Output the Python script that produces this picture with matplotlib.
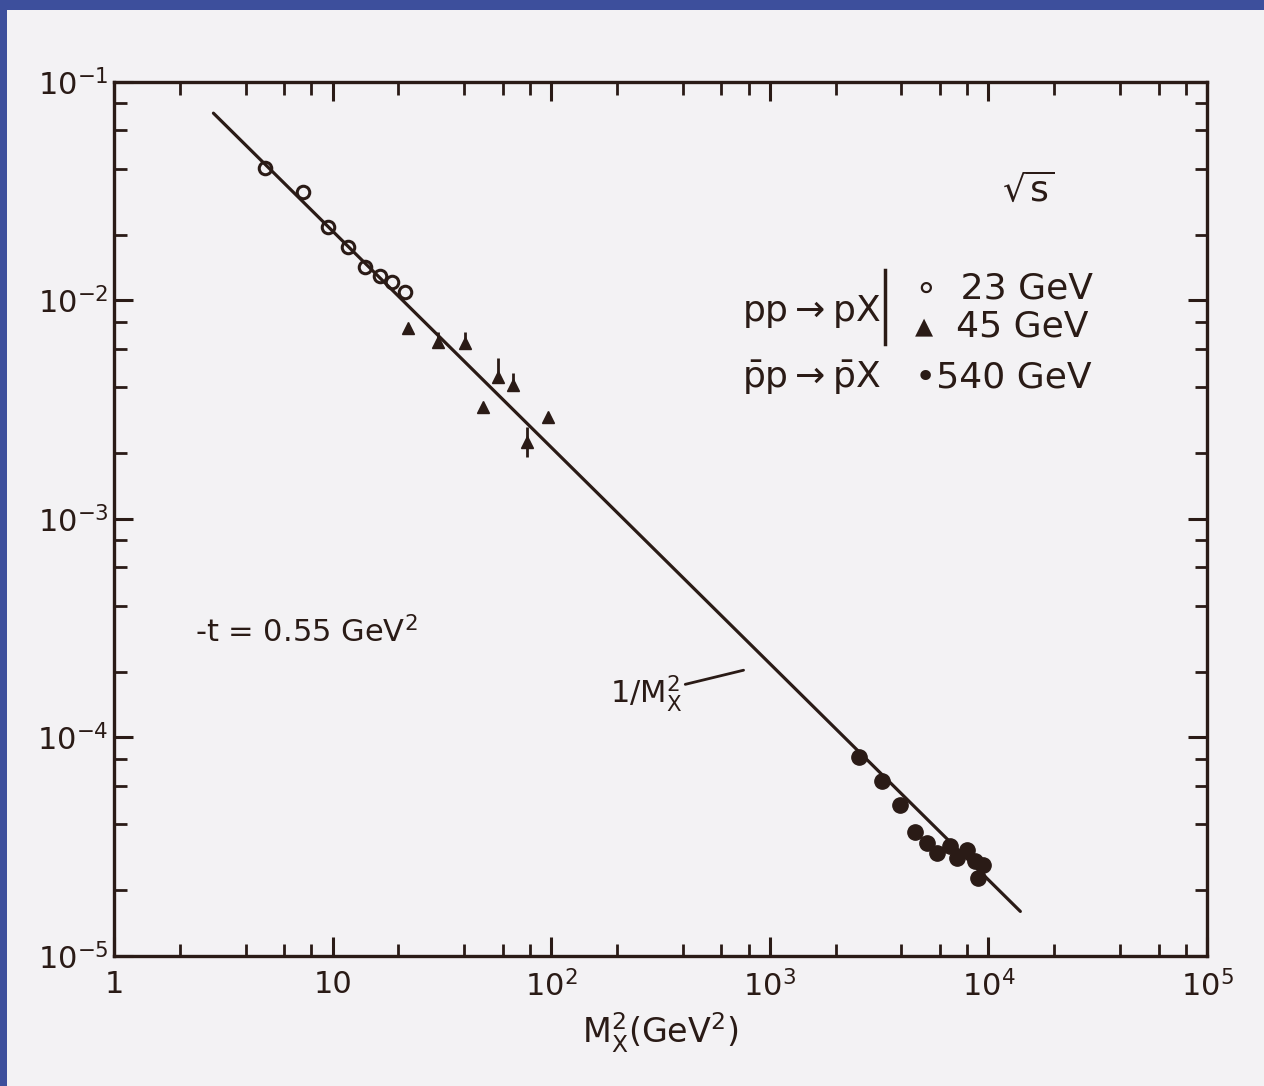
import numpy as np
import matplotlib
matplotlib.use("Agg")
import matplotlib.pyplot as plt
from matplotlib.patches import Rectangle
from matplotlib.lines import Line2D
from matplotlib.ticker import LogLocator, NullFormatter

INK = "#2a1b16"
PAPER = "#f3f2f4"
BLUE = "#3d4f9c"

# sqrt(s) = 23 GeV, pp -> pX (open circles)
m2_23 = [4.9, 7.3, 9.5, 11.8, 14.1, 16.5, 18.7, 21.4]
sig_23 = [0.0405, 0.0315, 0.0216, 0.0175, 0.0142, 0.0129, 0.0122, 0.0109]

# sqrt(s) = 45 GeV, pp -> pX (triangles), with error bar ends
m2_45 = [22.1, 30.4, 40.3, 57.1, 66.9, 48.8, 96.7, 77.5]
sig_45 = [0.00748, 0.00646, 0.00640, 0.00447, 0.00410, 0.00326, 0.00293, 0.00225]
sig_45_hi = [0.00748, 0.00718, 0.00718, 0.00546, 0.00466, 0.00326, 0.00293, 0.00263]
sig_45_lo = [0.00748, 0.00646, 0.00640, 0.00447, 0.00410, 0.00326, 0.00293, 0.00193]

# sqrt(s) = 540 GeV, pbar p -> pbar X (filled circles)
m2_540 = [2560, 3260, 3950, 4620, 5240, 5820, 6670, 7180, 7990, 8690, 9440, 8960]
sig_540 = [8.1e-5, 6.3e-5, 4.9e-5, 3.7e-5, 3.3e-5, 2.95e-5, 3.2e-5, 2.8e-5,
           3.05e-5, 2.72e-5, 2.6e-5, 2.27e-5]

# 1/M_X^2 line, end points
line_x = [2.85, 14000]
line_y = [0.072, 1.6e-5]

plt.rcParams['font.family'] = ['DejaVu Sans']
plt.rcParams['mathtext.fontset'] = 'dejavusans'
plt.rcParams['mathtext.default'] = 'regular'

fig = plt.figure(figsize=(12.64, 10.86), dpi=100, facecolor=BLUE)
# paper sheet over the blue background
fig.patches.append(Rectangle((7 / 1264, 0), 1 - 7 / 1264, 1 - 10 / 1086,
                             transform=fig.transFigure, facecolor=PAPER,
                             edgecolor='none', zorder=-10))

ax = fig.add_axes([114 / 1264, 130 / 1086, 1093 / 1264, 874 / 1086])
ax.set_facecolor('none')
ax.set_xscale('log')
ax.set_yscale('log')
ax.set_xlim(1, 1e5)
ax.set_ylim(1e-5, 1e-1)

ax.plot(line_x, line_y, color=INK, lw=2.3, solid_capstyle='round')

ax.plot(m2_23, sig_23, 'o', ms=9, mfc='none', mec=INK, mew=2.2)

yerr = [np.array(sig_45) - np.array(sig_45_lo), np.array(sig_45_hi) - np.array(sig_45)]
ax.errorbar(m2_45, sig_45, yerr=yerr, fmt='^', ms=9, color=INK,
            ecolor=INK, elinewidth=2, capsize=0)

ax.plot(m2_540, sig_540, 'o', ms=11, color=INK)

for s in ax.spines.values():
    s.set_linewidth(2.4)
    s.set_color(INK)

# sparse minor ticks like the hand-drawn axes
ax.xaxis.set_minor_locator(LogLocator(base=10, subs=(2, 4, 6, 8)))
ax.yaxis.set_minor_locator(LogLocator(base=10, subs=(2, 4, 6, 8)))
ax.xaxis.set_minor_formatter(NullFormatter())
ax.yaxis.set_minor_formatter(NullFormatter())

ax.tick_params(which='both', direction='in', top=True, right=True, color=INK,
               labelcolor=INK)
ax.tick_params(which='major', length=14, width=2.2, labelsize=22, pad=10)
ax.tick_params(which='minor', length=9, width=2)
ax.set_xticks([1, 10, 100, 1e3, 1e4, 1e5])
ax.set_xticklabels(['1', '10', '$10^2$', '$10^3$', '$10^4$', '$10^5$'])
ax.set_yticks([1e-5, 1e-4, 1e-3, 1e-2, 1e-1])
ax.set_yticklabels(['$10^{-5}$', '$10^{-4}$', '$10^{-3}$', '$10^{-2}$', '$10^{-1}$'])
ax.tick_params(axis='y', pad=4)

ax.set_xlabel('$M_X^2$(GeV$^2$)', fontsize=24, color=INK, labelpad=6)

tkw = dict(transform=ax.transAxes, color=INK, fontsize=26)
ax.text(0.837, 0.876, r'$\sqrt{s}$', ha='center', va='center', **tkw)
ax.text(0.575, 0.737, r'pp$\rightarrow$pX', ha='left', va='center', **tkw)
ax.text(0.575, 0.662, r'$\bar{p}$p$\rightarrow\bar{p}$X', ha='left', va='center', **tkw)
ax.text(0.733, 0.764, '\u2218  23 GeV', ha='left', va='center', **tkw)
ax.text(0.733, 0.720, '\u25b4  45 GeV', ha='left', va='center', **tkw)
ax.text(0.733, 0.662, '\u2022540 GeV', ha='left', va='center', **tkw)
ax.add_line(Line2D([0.705, 0.705], [0.70, 0.785], transform=ax.transAxes,
                   color=INK, lw=2.5))

ax.text(0.074, 0.371, '-t = 0.55 GeV$^2$', ha='left', va='center',
        transform=ax.transAxes, color=INK, fontsize=22)
ax.annotate('1/$M_X^2$', xy=(0.576, 0.327), xytext=(0.454, 0.300),
            xycoords='axes fraction', textcoords='axes fraction',
            ha='left', va='center', color=INK, fontsize=22,
            arrowprops=dict(arrowstyle='-', color=INK, lw=2,
                            shrinkA=0, shrinkB=0))

fig.savefig('out.png', dpi=100, facecolor=fig.get_facecolor())
